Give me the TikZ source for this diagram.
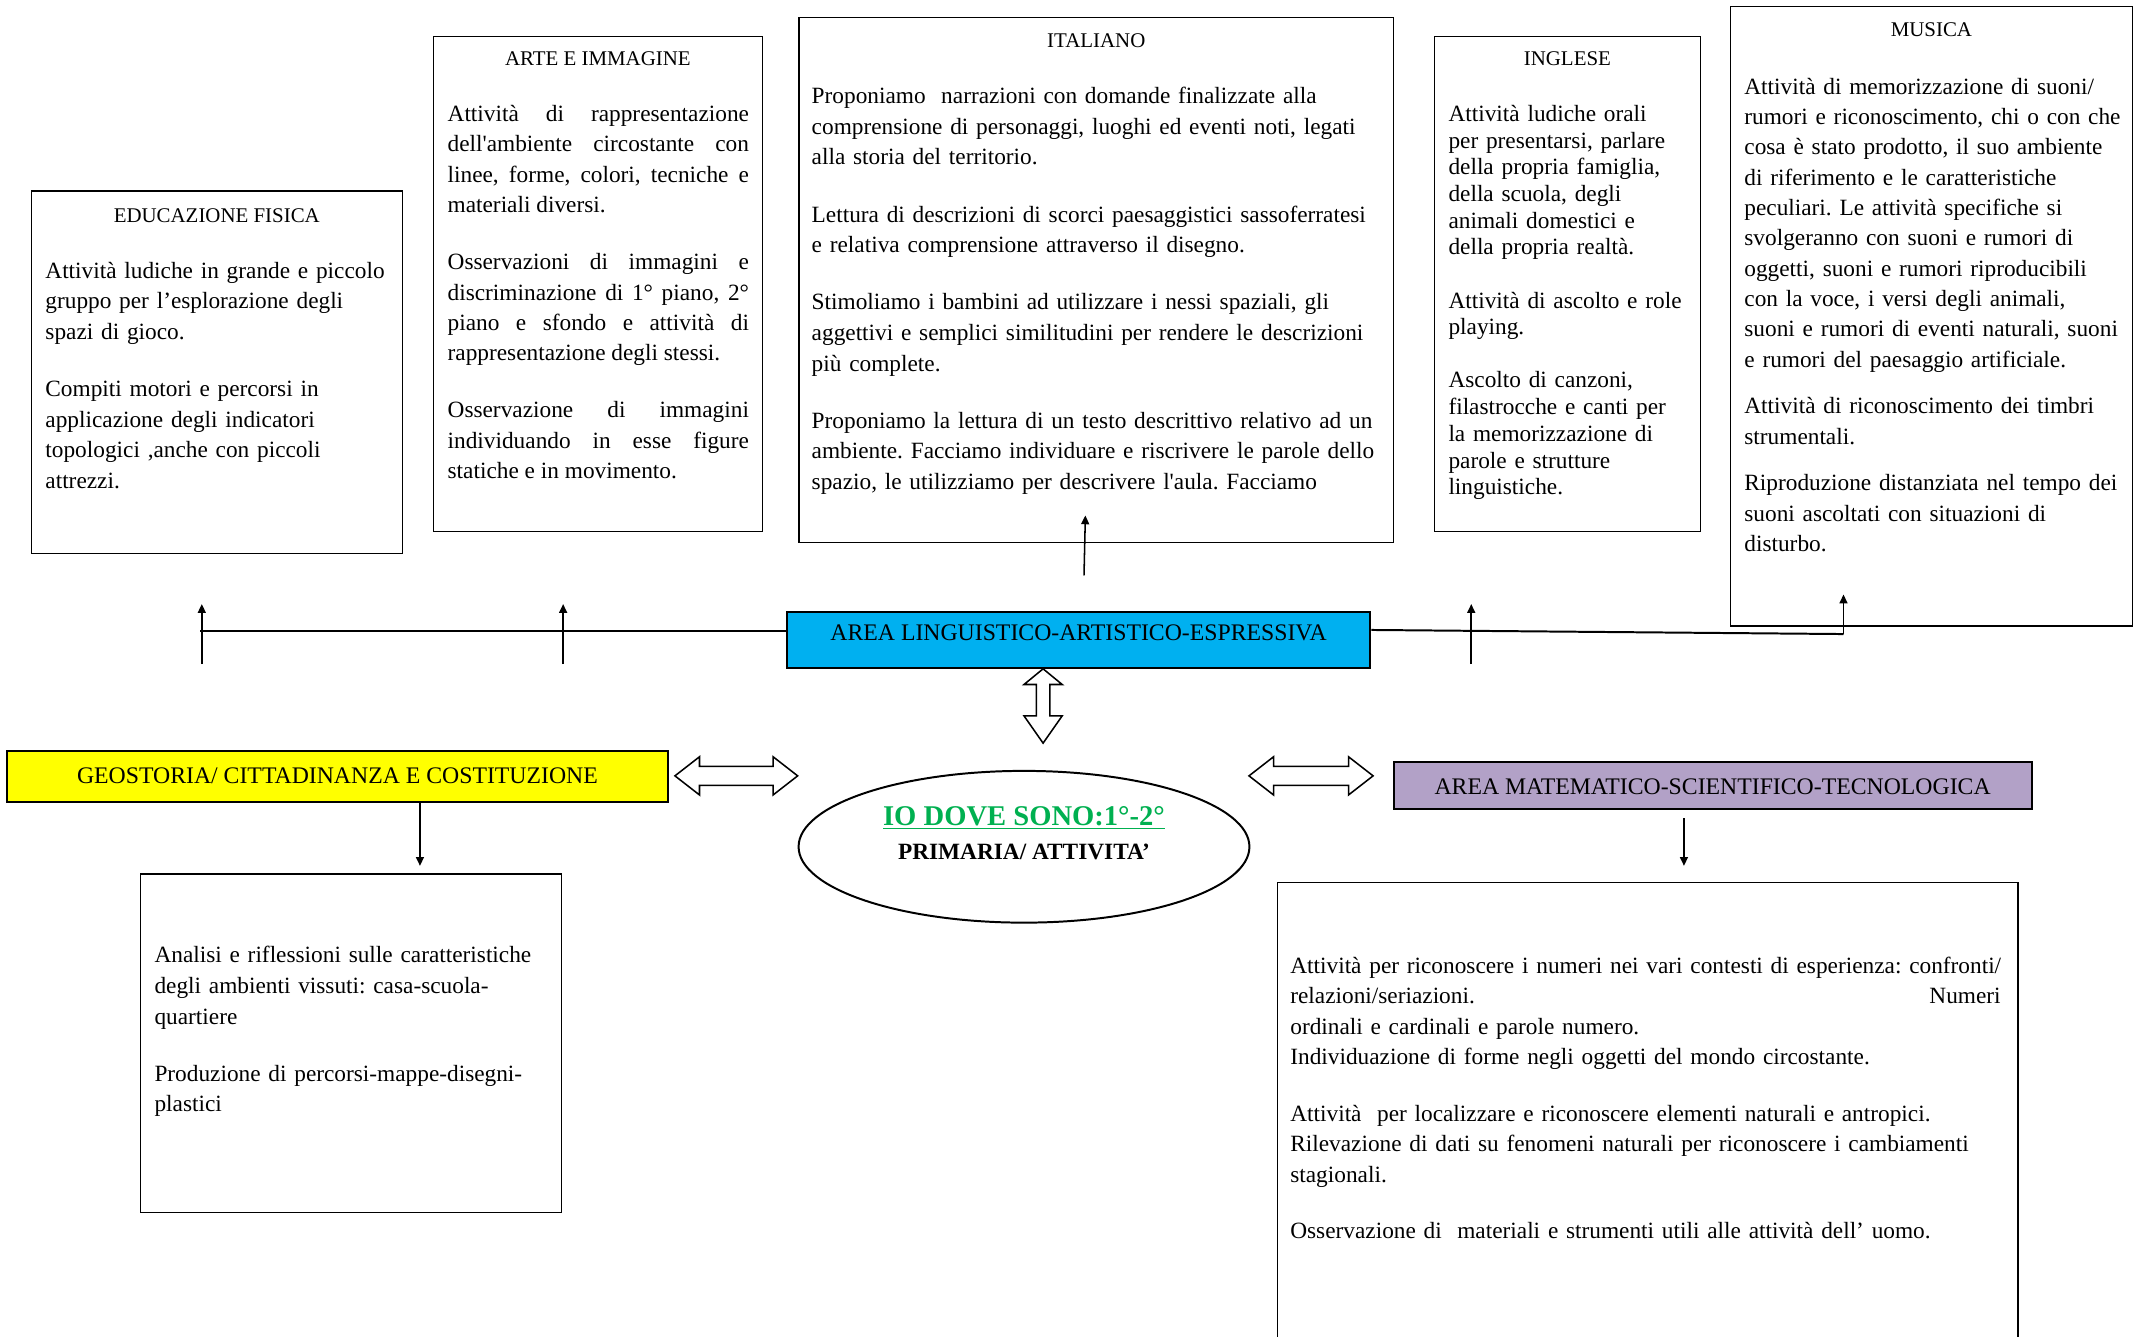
\documentclass[tikz,border=0pt]{standalone}
\usepackage{fontspec}
\setmainfont{Liberation Serif}[Ligatures=TeXOff]
\frenchspacing
\usetikzlibrary{fit,shapes.geometric,arrows.meta}
\definecolor{areacyan}{RGB}{0,176,240}
\definecolor{areayellow}{RGB}{255,255,0}
\definecolor{arealilac}{RGB}{178,161,199}
\definecolor{iogreen}{RGB}{0,176,80}
\begin{document}
\begin{tikzpicture}[x=0.62pt,y=-0.62pt,
	panel/.style={draw,inner sep=0pt,line width=0.6pt},
	area/.style={draw,inner sep=0pt,line width=0.9pt},
	arealabel/.style={inner sep=0pt,font=\fontsize{10.8}{12}\selectfont},
	boxtitle/.style={inner sep=0pt,font=\fontsize{9.5}{11}\selectfont},
	boxtext/.style={anchor=base west,inner sep=0pt,align=left,font=\fontsize{10.6}{13.95}\selectfont},
	tick/.style={line width=0.7pt,-{Triangle[length=4pt,width=3.6pt]}},
	hollow/.style={draw,fill=white,line width=0.7pt}]
	\useasboundingbox (0,0) rectangle (1568,980);
	
	% subject boxes on top
	\node[panel,fit={(23,140) (295,406)}] (ef) {};
	\node[panel,fit={(318,27) (559,390)}] (ar) {};
	\node[panel,fit={(586,13) (1022,398)}] (it) {};
	\node[panel,fit={(1052,27) (1247,390)}] (in) {};
	\node[panel,fit={(1269,5) (1564,459)}] (mu) {};
	
	\node[boxtitle] (efT) at (ef.north |- 0,158) {EDUCAZIONE FISICA};
	\node[boxtitle] (arT) at (ar.north |- 0,43) {ARTE E IMMAGINE};
	\node[boxtitle] (itT) at (it.north |- 0,30) {ITALIANO};
	\node[boxtitle] (inT) at (in.north |- 0,43) {INGLESE};
	\node[boxtitle] (muT) at (mu.north |- 0,22) {MUSICA};
	
	\node[boxtext,text width=170pt] (efB) at (33,204) {Attività ludiche in grande e piccolo\\
		gruppo per l’esplorazione degli\\
		spazi di gioco.\\[12pt]
		Compiti motori e percorsi in\\
		applicazione degli indicatori\\
		topologici ,anche con piccoli\\
		attrezzi.};
	\node[boxtext,align=justify,text width=137pt,font=\fontsize{10.6}{13.85}\selectfont] (arB) at (328,89) {Attività di rappresentazione\linebreak
		dell'ambiente circostante con\linebreak
		linee, forme, colori, tecniche e\linebreak
		materiali diversi.\par\vspace{12pt}
		Osservazioni di immagini e\linebreak
		discriminazione di 1° piano, 2°\linebreak
		piano e sfondo e attività di\linebreak
		rappresentazione degli stessi.\par\vspace{12pt}
		Osservazione di immagini\linebreak
		individuando in esse figure\linebreak
		statiche e in movimento.};
	\node[boxtext,text width=275pt] (itB) at (595,76) {Proponiamo\ \ narrazioni con domande finalizzate alla\\
		comprensione di personaggi, luoghi ed eventi noti, legati\\
		alla storia del territorio.\\[12pt]
		Lettura di descrizioni di scorci paesaggistici sassoferratesi\\
		e relativa comprensione attraverso il disegno.\\[12pt]
		Stimoliamo i bambini ad utilizzare i nessi spaziali, gli\\
		aggettivi e semplici similitudini per rendere le descrizioni\\
		più complete.\\[12pt]
		Proponiamo la lettura di un testo descrittivo relativo ad un\\
		ambiente. Facciamo individuare e riscrivere le parole dello\\
		spazio, le utilizziamo per descrivere l'aula. Facciamo};
	\node[boxtext,text width=125pt,font=\fontsize{10.6}{12.15}\selectfont] (inB) at (1062,89) {Attività ludiche orali\\
		per presentarsi, parlare\\
		della propria famiglia,\\
		della scuola, degli\\
		animali domestici e\\
		della propria realtà.\\[12pt]
		Attività di ascolto e role\\
		playing.\\[12pt]
		Ascolto di canzoni,\\
		filastrocche e canti per\\
		la memorizzazione di\\
		parole e strutture\\
		linguistiche.};
	\node[boxtext,text width=185pt,font=\fontsize{10.6}{13.8}\selectfont] (muB) at (1279,69) {Attività di memorizzazione di suoni/\\
		rumori e riconoscimento, chi o con che\\
		cosa è stato prodotto, il suo ambiente\\
		di riferimento e le caratteristiche\\
		peculiari. Le attività specifiche si\\
		svolgeranno con suoni e rumori di\\
		oggetti, suoni e rumori riproducibili\\
		con la voce, i versi degli animali,\\
		suoni e rumori di eventi naturali, suoni\\
		e rumori del paesaggio artificiale.\\[7.4pt]
		Attività di riconoscimento dei timbri\\
		strumentali.\\[7.4pt]
		Riproduzione distanziata nel tempo dei\\
		suoni ascoltati con situazioni di\\
		disturbo.};
	
	% central area and its branches
	\node[area,fill=areacyan,fit={(577,449) (1005,490)}] (al) {};
	\node[arealabel] (alL) at (al.center |- 0,464) {AREA LINGUISTICO-ARTISTICO-ESPRESSIVA};
	\coordinate (hl) at (147,463);
	\coordinate (hr) at (1352,465);
	\draw[line width=0.9pt] (hl) -- (hl -| al.west);
	\draw[line width=0.9pt] (al.east |- 0,462) -- (hr);
	
	\foreach \x [count=\i] in {148,413,1079}{
		\coordinate (tk\i) at (\x,487);
		\coordinate (tt\i) at (\x,443);
		\draw[tick] (tk\i) -- (tt\i);
	}
	\coordinate (muA) at (1352,436);
	\draw[tick] (hr) -- (muA);
	\coordinate (itS) at (795,422);
	\coordinate (itA) at (796,378);
	\draw[tick] (itS) -- (itA);
	
	% hollow arrows
	\draw[hollow] (765,490.5) -- (779,502) -- (770,502) -- (770,525) -- (779,525) -- (765,545)
		-- (751,525) -- (760,525) -- (760,502) -- (751,502) -- cycle;
	\draw[hollow] (495,569) -- (513,555) -- (513,562) -- (567,562) -- (567,555) -- (585,569)
		-- (567,583) -- (567,576) -- (513,576) -- (513,583) -- cycle;
	\draw[hollow] (916,569) -- (934,555) -- (934,562) -- (989,562) -- (989,555) -- (1007,569)
		-- (989,583) -- (989,576) -- (934,576) -- (934,583) -- cycle;
	
	% centre
	\node[draw,ellipse,line width=0.9pt,minimum width=205pt,minimum height=69pt,inner sep=0pt] (io) at (751,621) {};
	\node[align=center,inner sep=0pt,font=\fontsize{13}{15.5}\selectfont\bfseries] (ioT) at (751,611)
		{{\color{iogreen}\underline{IO DOVE SONO:1°-2°}}\\
		{\fontsize{10.6}{12}\selectfont PRIMARIA/ ATTIVITA’}};
	
	% lower areas
	\node[area,fill=areayellow,fit={(5,551) (490,588)}] (geo) {};
	\node[arealabel] (geoL) at (geo.center |- 0,569) {GEOSTORIA/ CITTADINANZA E COSTITUZIONE};
	\node[area,fill=arealilac,fit={(1022,559) (1490,593)}] (mat) {};
	\node[arealabel] (matL) at (mat.center |- 0,577) {AREA MATEMATICO-SCIENTIFICO-TECNOLOGICA};
	
	\node[panel,fit={(103,641) (412,889)}] (geoP) {};
	\node[panel,fit={(937,647) (1480,990)}] (matP) {};
	
	\coordinate (geoA) at (308,635);
	\draw[tick] (geo.south -| geoA) -- (geoA);
	\coordinate (matS) at (1235,600);
	\coordinate (matA) at (1235,635);
	\draw[tick] (matS) -- (matA);
	
	\node[boxtext,text width=190pt] (geoB) at (113,706) {Analisi e riflessioni sulle caratteristiche\\
		degli ambienti vissuti: casa-scuola-\\
		quartiere\\[12pt]
		Produzione di percorsi-mappe-disegni-\\
		plastici};
	\node[boxtext,text width=323pt,font=\fontsize{10.6}{13.8}\selectfont] (matB) at (946,714) {\mbox{Attività per riconoscere i numeri nei vari contesti di esperienza: confronti/}\\
		relazioni/seriazioni.\hskip 0pt plus 1filll Numeri\\
		ordinali e cardinali e parole numero.\\
		Individuazione di forme negli oggetti del mondo circostante.\\[12pt]
		Attività\ \ per localizzare e riconoscere elementi naturali e antropici.\\
		Rilevazione di dati su fenomeni naturali per riconoscere i cambiamenti\\
		stagionali.\\[12pt]
		Osservazione di\ \ materiali e strumenti utili alle attività dell’ uomo.};
\end{tikzpicture}
\end{document}
